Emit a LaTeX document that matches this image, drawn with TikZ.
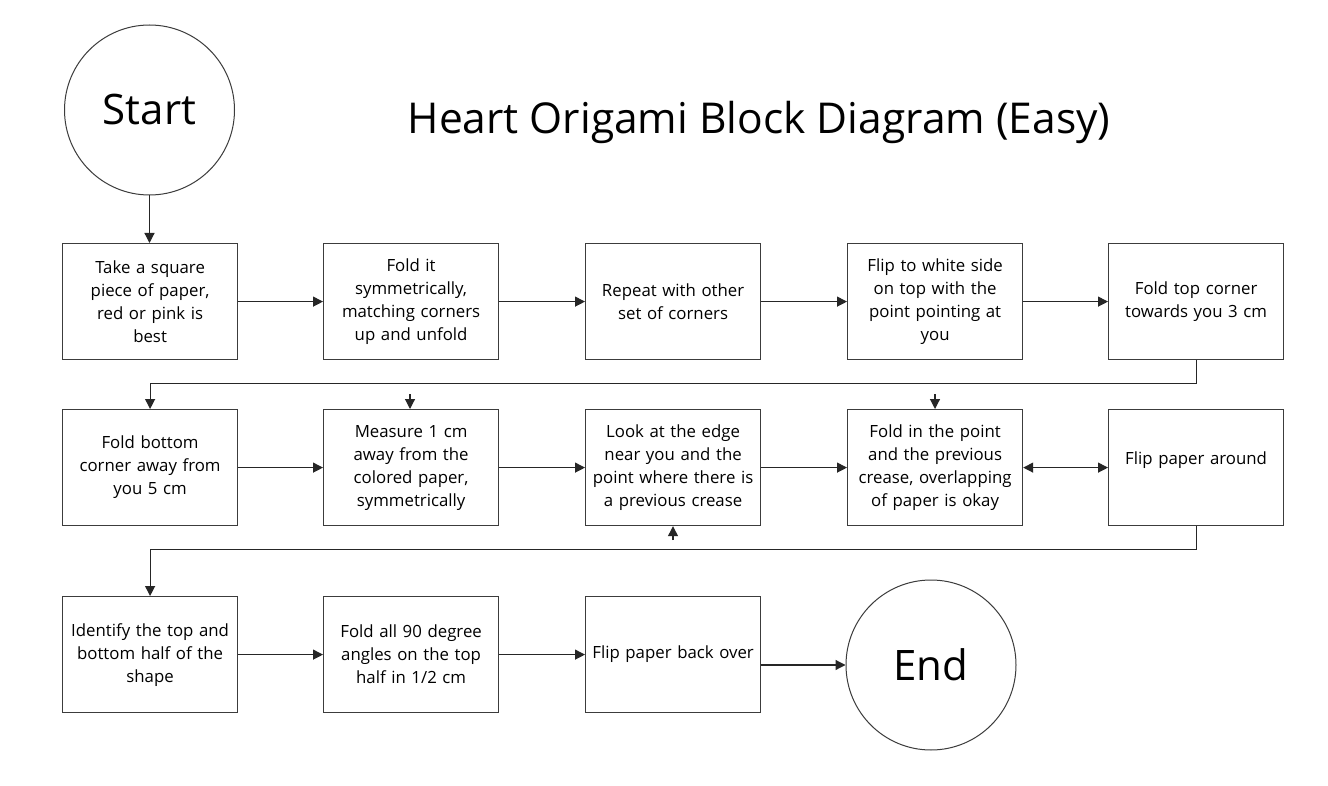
\documentclass[tikz,border=0pt]{standalone}
\usepackage{fontspec}
\setmainfont{Open Sans}
\usetikzlibrary{arrows.meta}
\definecolor{linec}{HTML}{3C3C3C}
\tikzset{
  box/.style={draw=linec, line width=1.2pt, minimum width=175pt, minimum height=116pt, inner sep=0pt,
    text width=172pt, align=center, font=\fontsize{16.8}{23}\selectfont, anchor=north west},
  term/.style={draw=linec, line width=1pt, circle, minimum size=170pt, inner sep=0pt, font=\fontsize{42}{44}\selectfont},
  conn/.style={draw=black!85, line width=1.2pt, -{Triangle[length=10pt,width=10pt]}},
  dconn/.style={draw=black!85, line width=1.2pt, {Triangle[length=10pt,width=10pt]}-{Triangle[length=10pt,width=10pt]}},
  plain/.style={draw=linec, line width=1.2pt}
}
\begin{document}
\begin{tikzpicture}[x=1pt,y=-1pt]
\useasboundingbox (0,0) rectangle (1328,786);
\fill[white] (0,0) rectangle (1328,786);
% title
\node (title) at (759,122) {\fontsize{42.5}{44}\selectfont Heart Origami Block Diagram (Easy)};
% terminals
\node[term] (start) at (149.5,110) {Start};
\node[term] (end) at (931,665) {End};
% row 1
\node[box] (b1) at (62,243) {Take a square\\piece of paper,\\red or pink is\\best};
\node[box] (b2) at (323,243) {Fold it\\symmetrically,\\matching corners\\up and unfold};
\node[box] (b3) at (585,243) {Repeat with other\\set of corners};
\node[box] (b4) at (847,243) {Flip to white side\\on top with the\\point pointing at\\you};
\node[box] (b5) at (1108,243) {Fold top corner\\towards you 3 cm};
% row 2
\node[box] (b6) at (62,409) {Fold bottom\\corner away from\\you 5 cm};
\node[box] (b7) at (323,409) {Measure 1 cm\\away from the\\colored paper,\\symmetrically};
\node[box] (b8) at (585,409) {Look at the edge\\near you and the\\point where there is\\a previous crease};
\node[box] (b9) at (847,409) {Fold in the point\\and the previous\\crease, overlapping\\of paper is okay};
\node[box, text depth=18pt] (b10) at (1108,409) {Flip paper around};
% row 3
\node[box] (b11) at (62,596) {Identify the top and\\bottom half of the\\shape};
\node[box] (b12) at (323,596) {Fold all 90 degree\\angles on the top\\half in 1/2 cm};
\node[box] (b13) at (585,596) {Flip paper back over};
% connectors
\draw[conn] (start.south) -- (start.south |- b1.north);
\draw[conn] (b1.east) -- (b2.west);
\draw[conn] (b2.east) -- (b3.west);
\draw[conn] (b3.east) -- (b4.west);
\draw[conn] (b4.east) -- (b5.west);
\draw[conn] (b5.south) -- ++(0,23) -| (b6.north);
\draw[conn] (b6.east) -- (b7.west);
\draw[conn] (b7.east) -- (b8.west);
\draw[conn] (b8.east) -- (b9.west);
\draw[dconn] (b9.east) -- (b10.west);
\draw[conn] (b10.south) -- ++(0,23) -| (b11.north);
\draw[conn] (b11.east) -- (b12.west);
\draw[conn] (b12.east) -- (b13.west);
\draw[conn] (b13.east |- end.west) -- (end.west);
% small stubs
\coordinate (s1) at (410,394);
\coordinate (s2) at (935,394);
\coordinate (s3) at (673,540);
\draw[conn] (s1) -- (s1 |- b7.north);
\draw[conn] (s2) -- (s2 |- b9.north);
\draw[conn] (s3) -- (s3 |- b8.south);
\end{tikzpicture}
\end{document}
